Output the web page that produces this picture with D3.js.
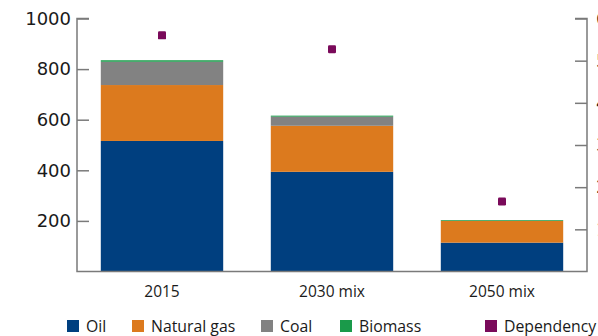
<!DOCTYPE html>
<html><head><meta charset="utf-8">
<script src="https://cdn.jsdelivr.net/npm/d3@7"></script>
<style>body{margin:0;background:#fff;} svg{display:block;font-family:"Open Sans",sans-serif;}</style>
</head><body><svg id="c" width="598" height="336"></svg>
<script>
const categories = ["2015", "2030 mix", "2050 mix"];
const oil = [516, 394, 114];
const naturalGas = [221, 182, 86];
const coal = [92, 36, 0];
const biomass = [6, 4, 3];
const dependency = [56, 52.7, 16.6];
const leftTicks = [200, 400, 600, 800, 1000];
const rightTicks = [10, 20, 30, 40, 50, 60];
const seriesNames = ["Oil", "Natural gas", "Coal", "Biomass"];
const colors = ["#003f7f", "#dc7a1e", "#828282", "#1a9a4a"];
const depColor = "#7a0a5a";

const svg = d3.select("#c");
const x0 = 77, x1 = 587, yTop = 18.5, yBot = 271.5;
const x = d3.scaleBand().domain(categories).range([x0, x1]).paddingInner(0.28).paddingOuter(0.14);
const y = d3.scaleLinear().domain([0, 1000]).range([yBot, yTop]);
const y2 = d3.scaleLinear().domain([0, 60]).range([yBot, yTop]);

const rows = categories.map((c, i) => ({cat: c, Oil: oil[i], "Natural gas": naturalGas[i], Coal: coal[i], Biomass: biomass[i]}));
const stack = d3.stack().keys(seriesNames)(rows);
stack.forEach((s, k) => {
  svg.append("g").selectAll("rect").data(s).join("rect")
    .attr("x", d => x(d.data.cat)).attr("width", x.bandwidth())
    .attr("y", d => y(d[1])).attr("height", d => y(d[0]) - y(d[1]))
    .attr("fill", colors[k]);
});

// axes
const axisColor = "#7a7a7a";
const gl = svg.append("g").attr("transform", `translate(${x0},0)`)
  .call(d3.axisRight(y).tickValues(leftTicks).tickSize(12).tickFormat(d3.format("d")));
gl.select(".domain").remove();
gl.selectAll(".tick line").attr("stroke", axisColor).attr("stroke-width", 1.5);
gl.selectAll(".tick text").attr("x", -6).attr("text-anchor", "end").attr("font-size", 18).attr("fill", "#1a1a1a").attr("font-family", "DejaVu Sans");
svg.append("path").attr("d", `M${x0+12},${yTop}H${x0}V${yBot}H${x1}V${yTop}H${x1-12}`).attr("fill", "none").attr("stroke", axisColor).attr("stroke-width", 1.5);

const gr = svg.append("g").attr("transform", `translate(${x1},0)`)
  .call(d3.axisLeft(y2).tickValues(rightTicks).tickSize(12).tickFormat(d3.format("d")));
gr.select(".domain").remove();
gr.selectAll(".tick line").attr("stroke", axisColor).attr("stroke-width", 1.5);
gr.selectAll(".tick text").attr("x", 9).attr("text-anchor", "start").attr("font-size", 18).attr("fill", "#1a1a1a").attr("font-family", "DejaVu Sans");

// x labels
svg.append("g").selectAll("text").data(categories).join("text")
  .attr("x", d => x(d) + x.bandwidth() / 2).attr("y", 297)
  .attr("text-anchor", "middle").attr("font-size", 15.5).attr("fill", "#1a1a1a").text(d => d);

// dependency points
svg.append("g").selectAll("rect").data(dependency).join("rect")
  .attr("x", (d, i) => x(categories[i]) + x.bandwidth() / 2 - 4)
  .attr("y", d => y2(d) - 4).attr("width", 8).attr("height", 8).attr("rx", 1.2)
  .attr("fill", depColor);

// legend
const legend = [
  {name: "Oil", color: colors[0], x: 67},
  {name: "Natural gas", color: colors[1], x: 132},
  {name: "Coal", color: colors[2], x: 261},
  {name: "Biomass", color: colors[3], x: 340},
  {name: "Dependency", color: depColor, x: 485}
];
const lg = svg.append("g").selectAll("g").data(legend).join("g").attr("transform", d => `translate(${d.x},320)`);
lg.append("rect").attr("width", 12).attr("height", 12).attr("fill", d => d.color);
lg.append("text").attr("x", 19).attr("y", 11.5).attr("font-size", 15.8).attr("fill", "#1a1a1a").text(d => d.name);
</script></body></html>
